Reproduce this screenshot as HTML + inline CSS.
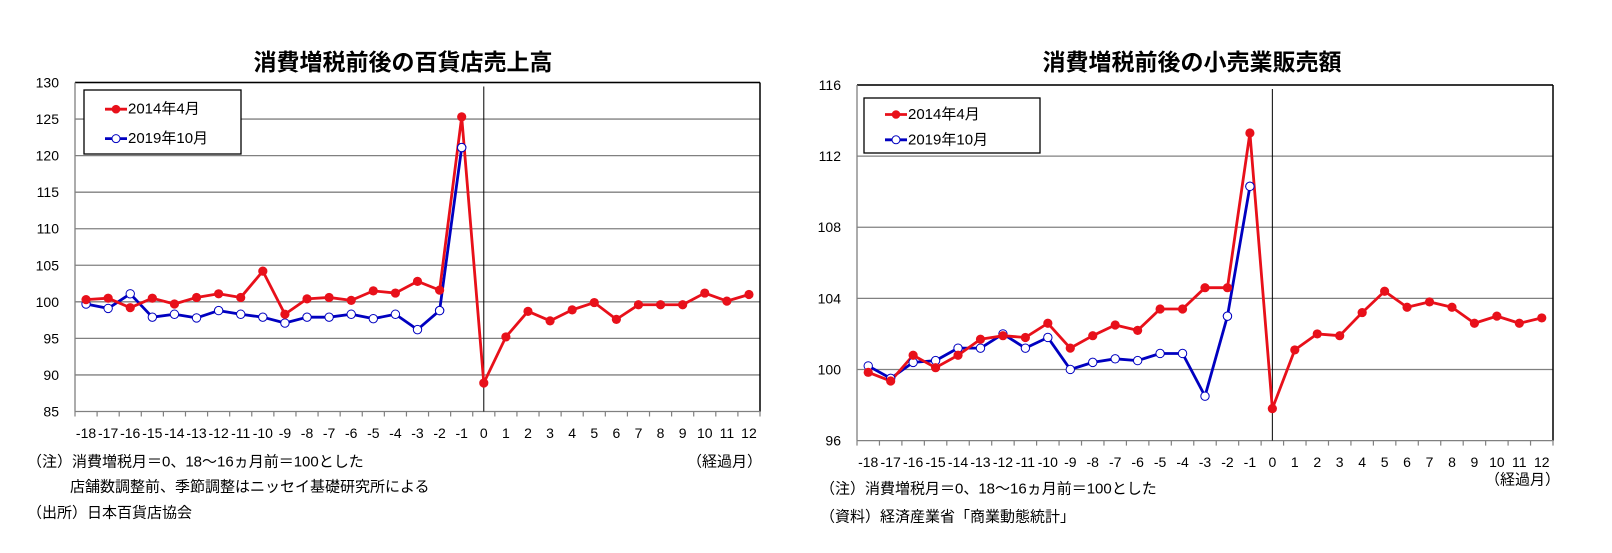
<!DOCTYPE html>
<html><head><meta charset="utf-8"><style>
html,body{margin:0;padding:0;background:#fff;}
svg{display:block;font-family:"Liberation Sans","Noto Sans CJK JP",sans-serif;}
</style></head><body>
<svg id="svg" width="1612" height="553" viewBox="0 0 1612 553" xmlns="http://www.w3.org/2000/svg">
<g id="c1"></g>
<g id="c2"></g>
</svg>
<script>
const categories = [-18,-17,-16,-15,-14,-13,-12,-11,-10,-9,-8,-7,-6,-5,-4,-3,-2,-1,0,1,2,3,4,5,6,7,8,9,10,11,12];
const dept2014 = [100.3,100.5,99.2,100.5,99.7,100.6,101.1,100.6,104.2,98.3,100.4,100.6,100.2,101.5,101.2,102.8,101.6,125.3,88.9,95.2,98.7,97.4,98.9,99.9,97.6,99.6,99.6,99.6,101.2,100.1,101.0];
const dept2019 = [99.7,99.1,101.1,97.9,98.3,97.8,98.8,98.3,97.9,97.1,97.9,97.9,98.3,97.7,98.3,96.2,98.8,121.1];
const deptTicks = [85,90,95,100,105,110,115,120,125,130];
const retail2014 = [99.84,99.35,100.8,100.1,100.8,101.7,101.9,101.8,102.6,101.2,101.9,102.5,102.2,103.4,103.4,104.6,104.6,113.3,97.8,101.1,102.0,101.9,103.2,104.4,103.5,103.8,103.5,102.6,103.0,102.6,102.9];
const retail2019 = [100.2,99.5,100.4,100.5,101.2,101.2,102.0,101.2,101.8,100.0,100.4,100.6,100.5,100.9,100.9,98.5,103.0,110.3];
const retailTicks = [96,100,104,108,112,116];

const NS="http://www.w3.org/2000/svg";
function mk(parent,tag,attrs,text){const e=document.createElementNS(NS,tag);for(const k in attrs)e.setAttribute(k,attrs[k]);if(text!==undefined)e.textContent=text;parent.appendChild(e);return e;}

function draw(g,cfg){
  const {L,R,T,B,ymin,ymax,ticks,s1,s2,title,titleX,titleY,legX,legY,legW,legH,xlabY,unitX,unitY,notes}=cfg;
  const n=categories.length, bw=(R-L)/n;
  const xs=i=>L+(i+0.5)*bw;
  const ys=v=>B-(v-ymin)/(ymax-ymin)*(B-T);
  let t=mk(g,'text',{x:titleX,y:titleY,'font-size':23,'font-weight':'bold','text-anchor':'middle','dominant-baseline':'central',fill:'#000'},title);
  
  
  ticks.forEach(v=>{
    const y=ys(v);
    if(v!==ymin){const gl=mk(g,'line',{x1:L,x2:R,y1:y,y2:y,stroke:'#808080','stroke-width':1.3});
      
      }
    const tl=mk(g,'text',{x:L-16,y:y,'font-size':14,'text-anchor':'end','dominant-baseline':'central',fill:'#000'},v);
    
    
  });
  let f=mk(g,'line',{x1:L,x2:R,y1:T,y2:T,stroke:'#000','stroke-width':1.5});
  
  
  f=mk(g,'line',{x1:R,x2:R,y1:T,y2:B,stroke:'#000','stroke-width':1.5});
  
  
  f=mk(g,'line',{x1:L,x2:L,y1:T,y2:B,stroke:'#808080','stroke-width':1.3});
  
  
  f=mk(g,'line',{x1:L,x2:R,y1:B,y2:B,stroke:'#808080','stroke-width':1.3});
  
  
  for(let i=0;i<=n;i++){const x=L+i*bw;const tk=mk(g,'line',{x1:x,x2:x,y1:B,y2:B+5,stroke:'#808080','stroke-width':1.2});
    
    }
  categories.forEach((c,i)=>{const tl=mk(g,'text',{x:xs(i),y:xlabY,'font-size':14,'text-anchor':'middle','dominant-baseline':'central',fill:'#000'},c);
    
    });
  const zi=categories.indexOf(0);
  const vl=mk(g,'line',{x1:xs(zi),x2:xs(zi),y1:T+4,y2:B,stroke:'#000','stroke-width':1});
  
  
  const p2=mk(g,'polyline',{points:s2.map((v,i)=>xs(i)+','+ys(v)).join(' '),fill:'none',stroke:'#0000c0','stroke-width':2.8,'stroke-linejoin':'round'});
  
  
  const p1=mk(g,'polyline',{points:s1.map((v,i)=>xs(i)+','+ys(v)).join(' '),fill:'none',stroke:'#e8101a','stroke-width':2.8,'stroke-linejoin':'round'});
  
  
  s2.forEach((v,i)=>{const c=mk(g,'circle',{cx:xs(i),cy:ys(v),r:4.2,fill:'#fff',stroke:'#0000c0','stroke-width':1});
    
    });
  s1.forEach((v,i)=>{const c=mk(g,'circle',{cx:xs(i),cy:ys(v),r:4.6,fill:'#e8101a'});
    
    });
  s2.forEach((v,i)=>{if(i>=s2.length-2){const c=mk(g,'circle',{cx:xs(i),cy:ys(v),r:4.2,fill:'#fff',stroke:'#0000c0','stroke-width':1});
    
    }});
  const lg=mk(g,'g',{});
  
  
  mk(lg,'rect',{x:legX,y:legY,width:legW,height:legH,fill:'#fff',stroke:'#000','stroke-width':1.3});
  const r1=legY+legH*0.30, r2=legY+legH*0.76;
  const e1=mk(lg,'g',{});
  
  
  mk(e1,'line',{x1:legX+21,x2:legX+43,y1:r1,y2:r1,stroke:'#e8101a','stroke-width':2.8});
  mk(e1,'circle',{cx:legX+32,cy:r1,r:4.3,fill:'#e8101a'});
  mk(e1,'text',{x:legX+44,y:r1,'font-size':15,'dominant-baseline':'central',fill:'#000'},'2014年4月');
  const e2=mk(lg,'g',{});
  
  
  mk(e2,'line',{x1:legX+21,x2:legX+43,y1:r2,y2:r2,stroke:'#0000c0','stroke-width':2.8});
  mk(e2,'circle',{cx:legX+32,cy:r2,r:4,fill:'#fff',stroke:'#0000c0','stroke-width':1});
  mk(e2,'text',{x:legX+44,y:r2,'font-size':15,'dominant-baseline':'central',fill:'#000'},'2019年10月');
  const u=mk(g,'text',{x:unitX,y:unitY,'font-size':15,'text-anchor':'end','dominant-baseline':'central',fill:'#000'},'（経過月）');
  
  
  notes.forEach(nt=>{const e=mk(g,'text',{x:nt[0],y:nt[1],'font-size':15,'dominant-baseline':'central',fill:'#000'},nt[2]);
    
    });
}
draw(document.getElementById('c1'),{L:75,R:760,T:82.5,B:411.5,ymin:85,ymax:130,ticks:deptTicks,s1:dept2014,s2:dept2019,
  title:'消費増税前後の百貨店売上高',titleX:403,titleY:62,legX:84,legY:90,legW:157,legH:64,xlabY:433,unitX:762,unitY:462,
  notes:[[27,462,'（注）消費増税月＝0、18～16ヵ月前＝100とした'],[70,487,'店舗数調整前、季節調整はニッセイ基礎研究所による'],[27,513,'（出所）日本百貨店協会']]});
draw(document.getElementById('c2'),{L:857,R:1553,T:85,B:440.6,ymin:96,ymax:116,ticks:retailTicks,s1:retail2014,s2:retail2019,
  title:'消費増税前後の小売業販売額',titleX:1192,titleY:62,legX:864,legY:98,legW:176,legH:55,xlabY:462,unitX:1560,unitY:480,
  notes:[[820,489,'（注）消費増税月＝0、18～16ヵ月前＝100とした'],[820,517,'（資料）経済産業省「商業動態統計」']]});
</script>
</body></html>
